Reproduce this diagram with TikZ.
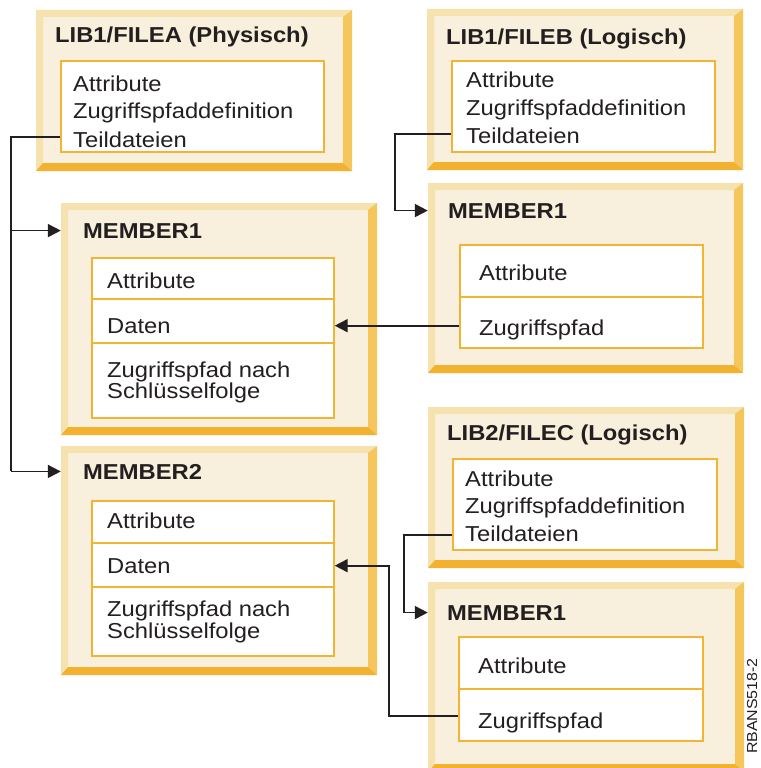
\documentclass[tikz,border=0pt]{standalone}
\usepackage{fontspec}
\setmainfont{Liberation Sans}[FakeStretch=1.1]
\usetikzlibrary{fit,arrows.meta}

\definecolor{cream}{RGB}{248,240,220}
\definecolor{bevlight}{RGB}{246,226,174}
\definecolor{bevright}{RGB}{244,198,91}
\definecolor{bevbottom}{RGB}{242,177,47}
\definecolor{inedge}{RGB}{243,180,51}
\definecolor{ink}{RGB}{35,31,32}

\tikzset{
  heading/.style={anchor=base west, inner sep=0pt, text=ink,
    font=\fontsize{21.6}{26}\selectfont\bfseries},
  entry/.style={anchor=base west, inner sep=0pt, text=ink,
    font=\fontsize{21.6}{26}\selectfont},
  panel/.style={inner sep=0pt, draw=inedge, line width=1.4pt, fill=white},
  divider/.style={draw=inedge, line width=1.4pt},
  conn/.style={draw=ink, line width=1.8pt},
  arr/.style={conn, -{Triangle[length=13pt,width=13pt]}},
}

% bevelled frame: name, x1, y1, x2, y2
\newcommand\bevelbox[5]{%
  \fill[cream] (#2,#3) rectangle (#4,#5);
  \fill[bevlight] (#2,#3) -- (#4,#3) -- (#4-9,#3+7) -- (#2+7,#3+7)
    -- (#2+7,#5-8) -- (#2,#5) -- cycle;
  \fill[bevright] (#4,#3) -- (#4,#5) -- (#4-9,#5-8) -- (#4-9,#3+7) -- cycle;
  \fill[bevbottom] (#2,#5) -- (#4,#5) -- (#4-9,#5-8) -- (#2+7,#5-8) -- cycle;
  \node[inner sep=0pt, fit={(#2,#3) (#4,#5)}] (#1) {};
}
% white content panel: name, x1, y1, x2, y2
\newcommand\panelbox[5]{%
  \node[panel, fit={(#2,#3) (#4,#5)}] (#1) {};
}

\begin{document}
\begin{tikzpicture}[x=1pt,y=-1pt]
\useasboundingbox (0,0) rectangle (760,768);

% ---------- LIB1/FILEA ----------
\bevelbox{fa}{36}{10}{352}{171}
\node[heading] (fa-title) at (55,43) {LIB1/FILEA (Physisch)};
\panelbox{fa-in}{61}{61}{324}{152}
\node[entry] (fa-l1) at (73,91) {Attribute};
\node[entry] (fa-l2) at (73,118) {Zugriffspfaddefinition};
\node[entry] (fa-l3) at (73,147) {Teildateien};

% ---------- LIB1/FILEB ----------
\bevelbox{fb}{427}{9}{743}{170}
\node[heading] (fb-title) at (446,45) {LIB1/FILEB (Logisch)};
\panelbox{fb-in}{452}{61}{715}{152}
\node[entry] (fb-l1) at (466,87) {Attribute};
\node[entry] (fb-l2) at (466,115) {Zugriffspfaddefinition};
\node[entry] (fb-l3) at (466,143) {Teildateien};

% ---------- MEMBER1 of FILEA ----------
\bevelbox{ma}{61}{203}{377}{435}
\node[heading] (ma-title) at (83,238) {MEMBER1};
\panelbox{ma-in}{92}{258}{334}{418}
\draw[divider] (ma-in.west |- 0,299) -- (ma-in.east |- 0,299);
\draw[divider] (ma-in.west |- 0,343) -- (ma-in.east |- 0,343);
\node[entry] (ma-l1) at (107,288) {Attribute};
\node[entry] (ma-l2) at (107,333) {Daten};
\node[entry] (ma-l3) at (107,377) {Zugriffspfad nach};
\node[entry] (ma-l4) at (107,398) {Schlüsselfolge};

% ---------- MEMBER2 of FILEA ----------
\bevelbox{mb}{61}{446}{377}{675}
\node[heading] (mb-title) at (83,479) {MEMBER2};
\panelbox{mb-in}{92}{501}{334}{656}
\draw[divider] (mb-in.west |- 0,543) -- (mb-in.east |- 0,543);
\draw[divider] (mb-in.west |- 0,587) -- (mb-in.east |- 0,587);
\node[entry] (mb-l1) at (107,528) {Attribute};
\node[entry] (mb-l2) at (107,573) {Daten};
\node[entry] (mb-l3) at (107,616) {Zugriffspfad nach};
\node[entry] (mb-l4) at (107,638) {Schlüsselfolge};

% ---------- MEMBER1 of FILEB ----------
\bevelbox{mc}{428}{183}{743}{373}
\node[heading] (mc-title) at (448,218) {MEMBER1};
\panelbox{mc-in}{460}{245}{703}{348}
\draw[divider] (mc-in.west |- 0,297) -- (mc-in.east |- 0,297);
\node[entry] (mc-l1) at (479,280) {Attribute};
\node[entry] (mc-l2) at (479,335) {Zugriffspfad};

% ---------- LIB2/FILEC ----------
\bevelbox{fc}{428}{407}{744}{568}
\node[heading] (fc-title) at (447,440) {LIB2/FILEC (Logisch)};
\panelbox{fc-in}{453}{459}{717}{550}
\node[entry] (fc-l1) at (465,486) {Attribute};
\node[entry] (fc-l2) at (465,513) {Zugriffspfaddefinition};
\node[entry] (fc-l3) at (465,541) {Teildateien};

% ---------- MEMBER1 of FILEC ----------
\bevelbox{md}{428}{582}{744}{772}
\node[heading] (md-title) at (447,620) {MEMBER1};
\panelbox{md-in}{459}{637}{703}{741}
\draw[divider] (md-in.west |- 0,689) -- (md-in.east |- 0,689);
\node[entry] (md-l1) at (478,673) {Attribute};
\node[entry] (md-l2) at (478,728) {Zugriffspfad};

% ---------- connectors ----------
\coordinate (fa-port) at (fa-in.west |- 0,137);
\coordinate (busa) at (11,137);
\draw[conn] (fa-port) -- (busa) -- (busa |- mb-title);
\draw[arr] (busa |- ma-title) -- (ma.west |- ma-title);
\draw[arr] (busa |- mb-title) -- (mb.west |- mb-title);

\coordinate (fb-port) at (fb-in.west |- 0,134);
\coordinate (busb) at (395,134);
\draw[arr] (fb-port) -- (busb) |- (mc.west |- mc-title);

\coordinate (mc-port) at (mc-in.west |- ma-l2);
\draw[arr] (mc-port) -- (ma-in.east |- ma-l2);

\coordinate (fc-port) at (fc-in.west |- 0,535);
\coordinate (busc) at (404,535);
\draw[arr] (fc-port) -- (busc) |- (md.west |- md-title);

\coordinate (md-port) at (md-in.west |- 0,716);
\coordinate (busd) at (389,716);
\draw[arr] (md-port) -- (busd) |- (mb-in.east |- mb-l2);

% figure reference number
\node[rotate=90, anchor=base east, inner sep=0pt, text=ink,
  font=\fontsize{14.5}{18}\selectfont] (figid) at (757,658) {RBANS518-2};
\end{tikzpicture}
\end{document}
